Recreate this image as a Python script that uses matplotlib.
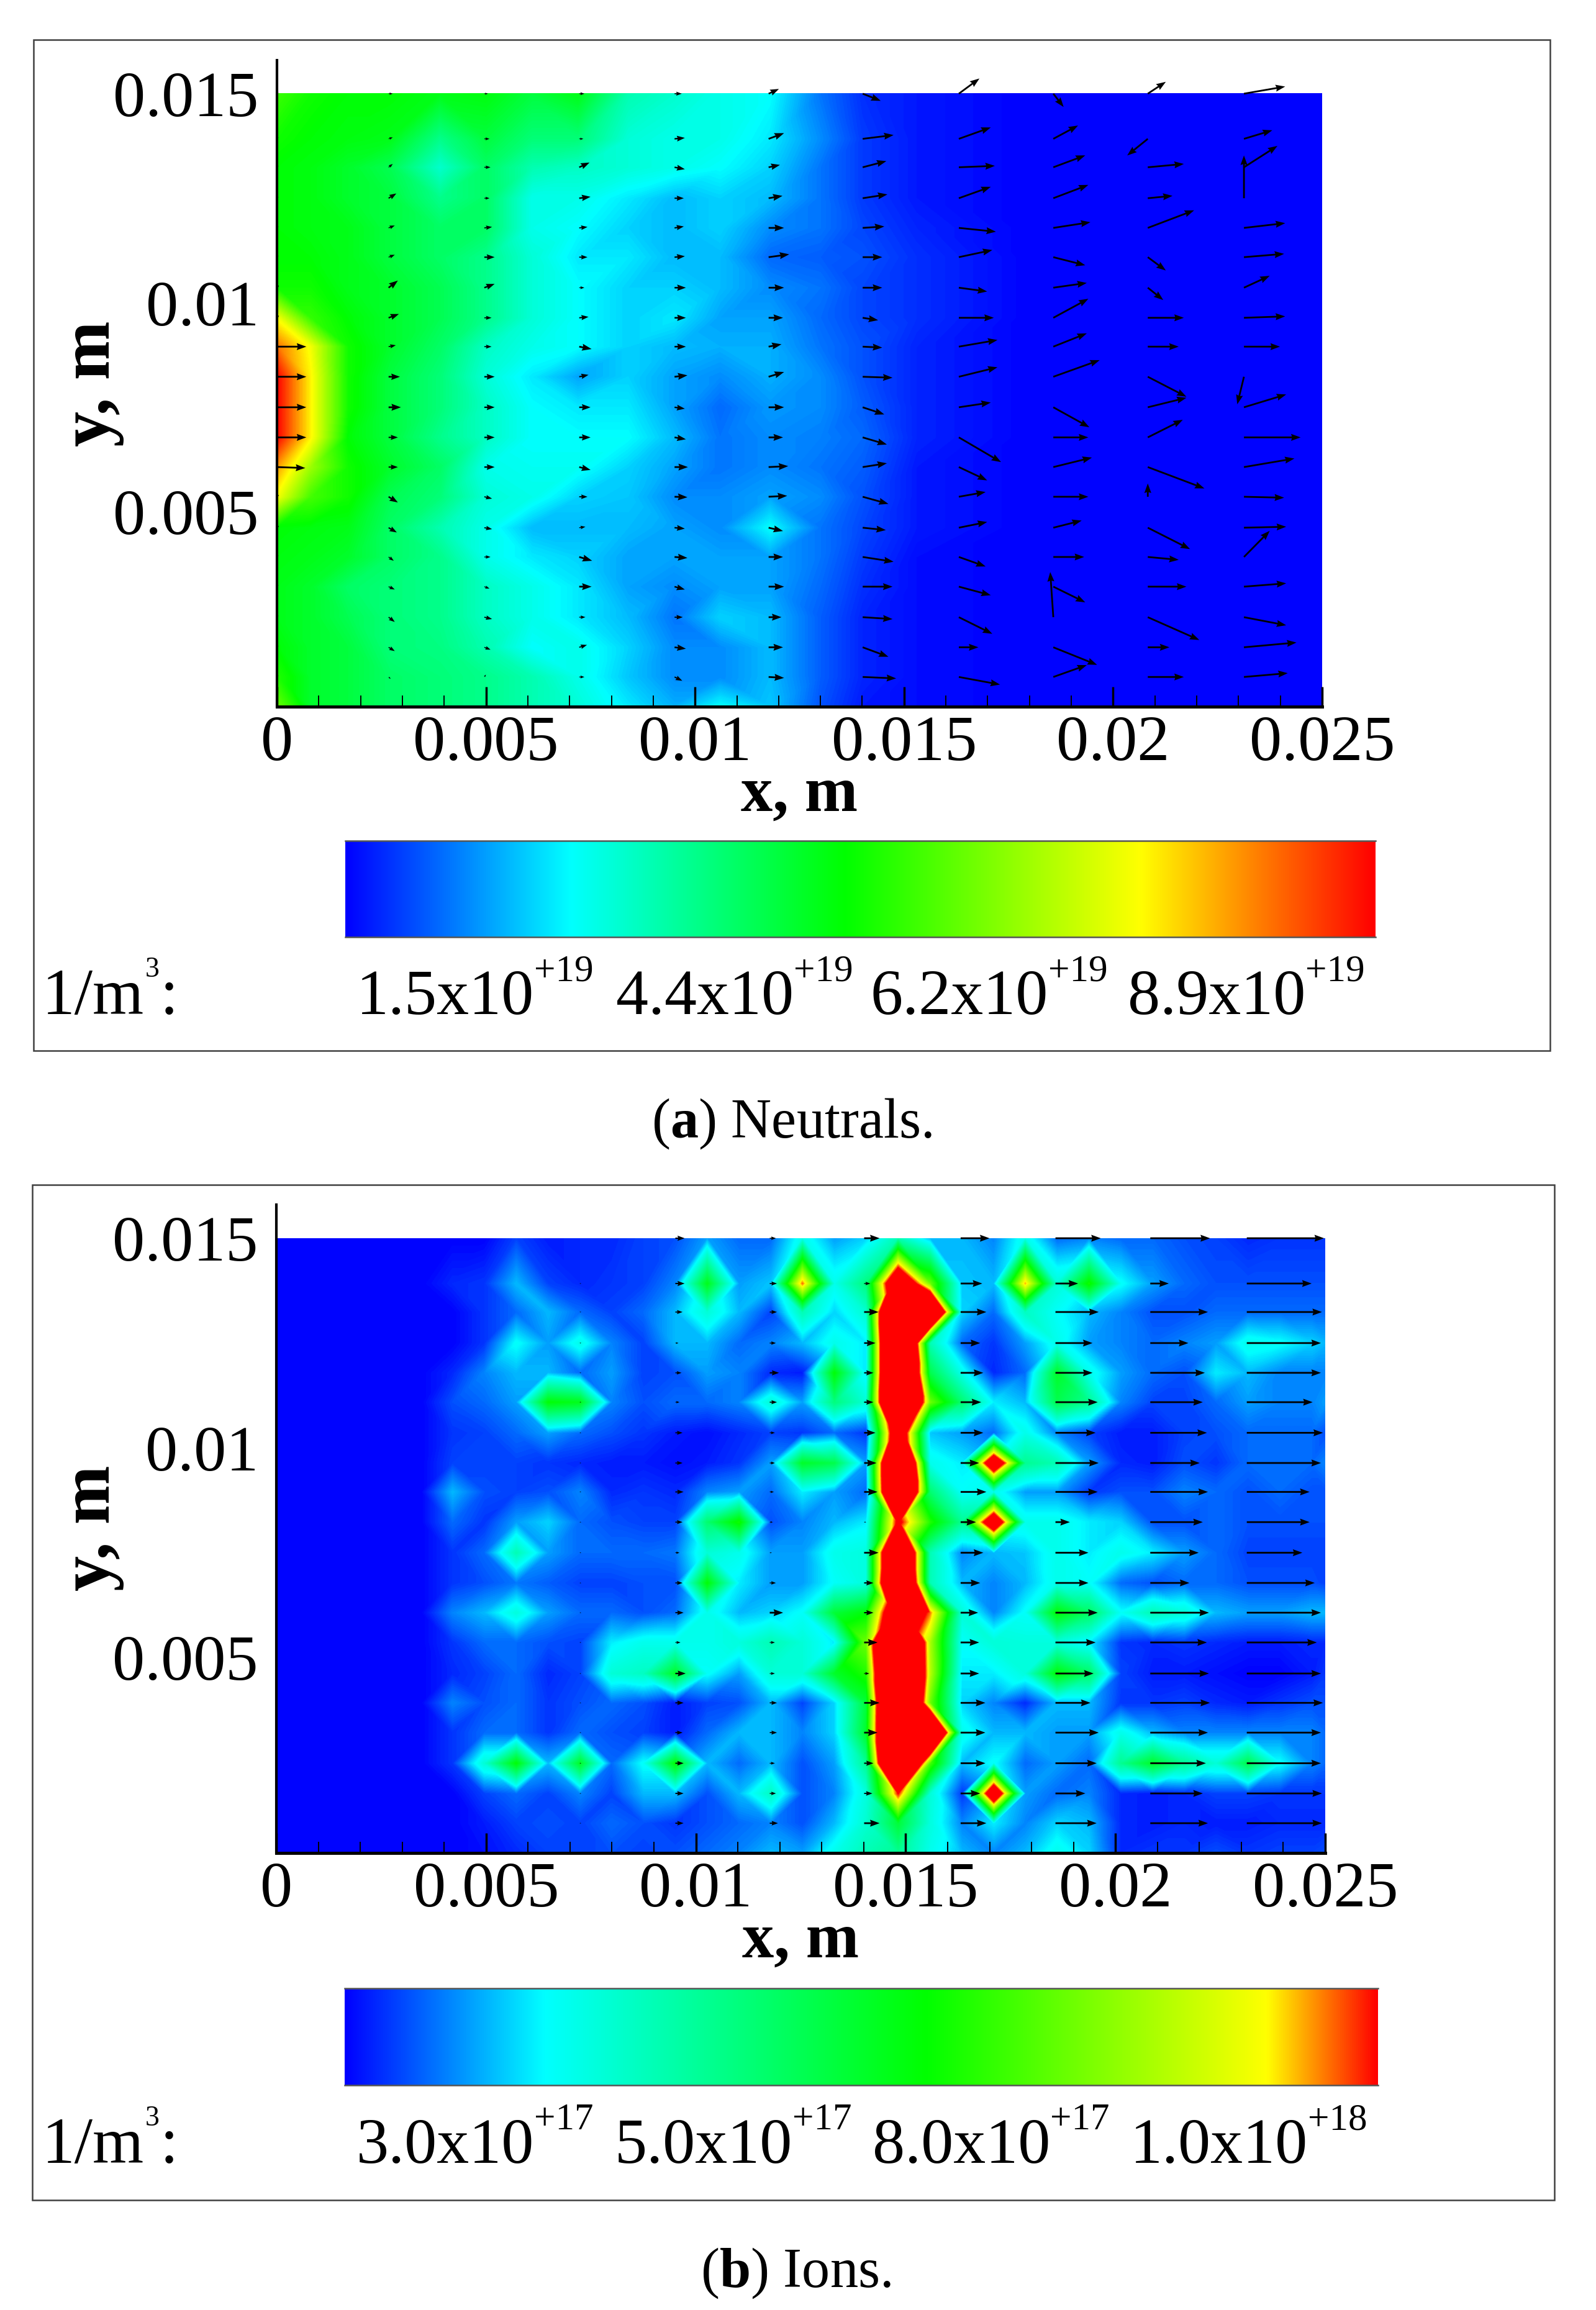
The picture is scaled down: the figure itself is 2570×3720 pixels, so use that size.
import numpy as np
import matplotlib
matplotlib.use('Agg')
import matplotlib.pyplot as plt
import matplotlib.tri as mtri
from matplotlib.colors import LinearSegmentedColormap
from matplotlib.patches import Rectangle
from matplotlib.ticker import MultipleLocator

plt.rcParams['font.family'] = ['Liberation Serif', 'DejaVu Serif']
plt.rcParams['mathtext.fontset'] = 'custom'
plt.rcParams['mathtext.rm'] = 'Liberation Serif'
plt.rcParams['mathtext.bf'] = 'Liberation Serif:bold'

W, H = 2570, 3720

# --- arrow grid (shared by both panels) ---
arrow_x = [0.0, 0.00267, 0.00496, 0.00723, 0.00951, 0.01176, 0.01401, 0.01631, 0.01857, 0.02083, 0.02313]
arrow_y = [0.015, 0.01392, 0.01324, 0.01250, 0.01179, 0.01109, 0.01036, 0.00964, 0.00895, 0.00823,
           0.00750, 0.00678, 0.00607, 0.00536, 0.00462, 0.00392, 0.00321, 0.00248, 0.00176, 0.00105]

# neutrals velocity, one list per column of arrows
neutral_u = [
    [3, 3, 3, 3, 3, 3, 4, 4, 57, 57, 57, 57, 55, 4, 4, 3, 3, 3, 3, 3],
    [8, 8, 8, 15, 12, 12, 18, 20, 14, 22, 24, 18, 18, 18, 16, 10, 12, 12, 12, 4],
    [7, 10, 12, 10, 15, 20, 20, 14, 14, 20, 20, 20, 20, 15, 15, 12, 10, 15, 12, 3],
    [10, 8, 20, 22, 16, 16, 10, 18, 24, 18, 22, 22, 22, 16, 12, 25, 24, 12, 15, 10],
    [14, 20, 20, 18, 18, 20, 22, 22, 22, 25, 20, 22, 26, 25, 20, 25, 20, 16, 22, 15],
    [20, 30, 22, 27, 30, 40, 30, 28, 25, 30, 30, 28, 38, 36, 28, 28, 30, 25, 28, 30],
    [35, 60, 46, 48, 42, 38, 38, 30, 38, 58, 42, 47, 47, 50, 45, 60, 58, 58, 50, 65],
    [40, 62, 70, 62, 72, 65, 55, 68, 75, 75, 62, 82, 55, 52, 55, 52, 62, 65, 38, 80],
    [20, 48, 62, 68, 72, 62, 65, 68, 65, 90, 70, 68, 75, 68, 55, 60, 62, -6, 85, 65],
    [35, -40, 70, 48, 90, 35, 30, 70, 60, 75, 75, 68, 110, 0, 82, 60, 75, 100, 42, 70],
    [80, 55, 65, 0, 80, 78, 50, 80, 70, -13, 82, 110, 98, 78, 82, 50, 82, 82, 102, 85],
]
neutral_v = [
    [3, 3, 3, 3, 3, 3, 5, 5, 0, 0, 0, 0, -2, 4, 4, 3, 3, 3, 3, 3],
    [0, 3, 7, 10, 5, 5, 15, 8, 3, 0, 0, 0, 0, -12, -10, -8, -6, -10, -8, -4],
    [0, 0, 0, 0, 2, 0, 8, 0, 0, 0, 0, 0, 0, -4, -3, 0, -4, -4, -5, 5],
    [0, 0, 10, 3, 2, 0, 0, 2, -5, 4, 0, 0, -6, 0, 2, -8, 0, 0, 5, 0],
    [0, 2, -4, 0, 3, 2, 0, 0, 0, 3, -3, -4, 0, -1, -2, -2, -6, 0, -3, -8],
    [10, 12, 5, 5, 0, 6, 0, 0, 5, 10, 0, 0, 2, 2, -7, 0, 0, 0, 0, -2],
    [-15, 8, 13, 8, 3, 0, 0, -5, -2, -2, -15, -15, 8, -15, -5, -10, 0, -4, -20, -3],
    [32, 24, 3, 24, -8, 15, -8, 0, 14, 20, 10, -52, -28, 10, 12, -20, -18, -35, 0, -16],
    [-28, 28, 25, 28, 12, -17, 10, 40, 28, 35, -42, 0, 20, 0, 15, 0, -33, 95, -37, 25],
    [25, -35, 7, 5, 37, -28, -26, 0, 0, -42, 20, 37, -45, 28, -45, -6, 0, -48, 0, 0],
    [15, 18, 45, 90, 10, 7, 25, 3, 0, -58, 27, 0, 18, -2, 2, 55, 7, -17, 10, 8],
]

# ions velocity (all along +x)
ion_u = [
    [0] * 20,
    [0] * 20,
    [0] * 20,
    [0, 3, 3, 3, 3, 3, 3, 3, 3, 3, 3, 3, 3, 3, 3, 3, 3, 3, 3, 3],
    [18, 18, 14, 6, 12, 8, 14, 14, 16, 14, 8, 14, 16, 10, 20, 16, 14, 16, 16, 16],
    [12, 14, 14, 12, 18, 14, 10, 10, 8, 6, 4, 12, 26, 10, 10, 14, 14, 10, 12, 16],
    [30, 12, 28, 22, 18, 18, 22, 24, 26, 4, 28, 18, 18, 26, 10, 30, 26, 18, 16, 30],
    [56, 42, 50, 38, 44, 40, 44, 36, 50, 30, 44, 38, 34, 36, 36, 48, 48, 48, 38, 50],
    [88, 44, 84, 72, 72, 82, 78, 84, 82, 28, 64, 64, 82, 78, 74, 68, 84, 80, 58, 80],
    [116, 36, 112, 74, 106, 102, 110, 96, 112, 102, 94, 76, 114, 110, 114, 116, 112, 108, 102, 112],
    [150, 126, 146, 144, 144, 128, 148, 144, 122, 122, 108, 132, 144, 136, 144, 148, 144, 144, 146, 146],
]
ion_v = [[0] * 20 for _ in ion_u]

# rows of the density fields
field_y = arrow_y + [0.00034]

# --- neutrals density, percent of the colour bar ---
neutral_x = [0.0, 0.0008, 0.0017, 0.0027, 0.0039, 0.0050, 0.0061, 0.0072, 0.0084, 0.0095, 0.0106, 0.0118,
             0.0130, 0.0140, 0.0153, 0.0180, 0.025]
neutral_density = [
    [55, 50, 48, 48, 46, 47, 42, 46, 30, 27, 24, 22, 10, 4, 2, 0, 0],
    [50, 48, 47, 46, 34, 42, 36, 36, 26, 24, 24, 20, 12, 5, 2, 0, 0],
    [48, 47, 44, 40, 27, 38, 30, 28, 26, 24, 22, 18, 10, 5, 2, 0, 0],
    [48, 47, 44, 42, 34, 38, 24, 24, 20, 16, 18, 16, 10, 5, 2, 0, 0],
    [48, 47, 46, 42, 38, 38, 24, 22, 18, 16, 18, 12, 10, 6, 3, 0, 0],
    [48, 48, 46, 42, 38, 34, 26, 20, 20, 16, 16, 9, 8, 7, 4, 0, 0],
    [50, 50, 46, 44, 40, 34, 26, 22, 18, 18, 16, 12, 10, 6, 4, 0, 0],
    [76, 54, 48, 44, 40, 34, 26, 22, 18, 20, 14, 14, 9, 6, 4, 0, 0],
    [90, 76, 50, 44, 38, 28, 24, 22, 18, 16, 15, 15, 10, 7, 3, 0, 0],
    [100, 78, 50, 42, 36, 26, 20, 14, 18, 14, 12, 15, 12, 7, 3, 0, 0],
    [100, 78, 50, 42, 36, 28, 22, 20, 20, 14, 9, 13, 12, 8, 3, 0, 0],
    [100, 78, 48, 42, 34, 28, 22, 22, 22, 16, 10, 12, 11, 9, 3, 0, 0],
    [86, 66, 50, 44, 38, 24, 23, 23, 18, 14, 10, 12, 10, 8, 2, 0, 0],
    [76, 56, 50, 40, 36, 26, 24, 18, 17, 12, 12, 14, 12, 7, 2, 0, 0],
    [48, 47, 46, 38, 30, 24, 16, 16, 16, 14, 12, 22, 10, 6, 2, 0, 0],
    [47, 46, 44, 38, 34, 24, 20, 18, 14, 14, 14, 14, 10, 5, 1, 0, 0],
    [46, 44, 38, 36, 34, 28, 24, 20, 14, 12, 14, 14, 9, 4, 1, 0, 0],
    [46, 44, 40, 36, 34, 28, 24, 20, 16, 10, 18, 16, 8, 3, 1, 0, 0],
    [48, 44, 42, 36, 35, 30, 22, 24, 18, 12, 12, 16, 8, 3, 1, 0, 0],
    [52, 44, 42, 38, 36, 34, 30, 24, 17, 12, 12, 16, 8, 3, 1, 0, 0],
    [60, 44, 42, 38, 36, 34, 30, 26, 20, 15, 22, 17, 7, 2, 1, 0, 0],
]

# --- ions density, percent of the colour bar (above 100 stays red) ---
ion_x = [0.0, 0.00042, 0.00117, 0.00193, 0.00269, 0.00345, 0.00420, 0.00496, 0.00572, 0.00648, 0.00724, 0.00799,
         0.00875, 0.00951, 0.01027, 0.01103, 0.01179, 0.01254, 0.01330, 0.01406, 0.01482, 0.01558, 0.01634, 0.01710,
         0.01785, 0.01861, 0.01937, 0.02013, 0.02089, 0.02164, 0.02240, 0.02316, 0.02392, 0.02468, 0.025]
ion_left = [0, 0, 0, 0, 0, 0]
ion_density = [
    ion_left + [0, 0, 5, 2, 3, 3, 5, 6, 12, 8, 8, 22, 12, 16, 30, 14, 14, 10, 22, 8, 10, 8, 8, 6, 5, 3, 4, 4, 4],
    ion_left + [3, 4, 14, 5, 3, 4, 5, 10, 52, 12, 15, 95, 22, 38, 137, 70, 15, 14, 92, 25, 58, 20, 12, 8, 6, 6, 6, 6, 6],
    ion_left + [0, 4, 8, 14, 8, 5, 8, 14, 25, 14, 5, 30, 16, 26, 200, 170, 16, 8, 28, 20, 14, 10, 6, 6, 8, 8, 8, 8, 8],
    ion_left + [0, 4, 20, 12, 22, 10, 5, 14, 14, 8, 10, 14, 22, 18, 200, 30, 8, 4, 12, 22, 12, 10, 8, 10, 12, 22, 20, 16, 14],
    ion_left + [3, 10, 14, 14, 8, 12, 5, 6, 12, 10, 3, 2, 55, 18, 200, 45, 22, 3, 8, 50, 22, 12, 8, 6, 18, 14, 10, 10, 10],
    ion_left + [6, 8, 12, 55, 52, 10, 6, 8, 8, 10, 25, 12, 38, 25, 200, 70, 40, 18, 14, 45, 35, 10, 5, 5, 8, 12, 10, 10, 12],
    ion_left + [4, 5, 8, 12, 8, 6, 4, 2, 1, 3, 5, 4, 8, 4, 130, 15, 12, 8, 22, 10, 5, 2, 2, 5, 6, 8, 8, 8, 6],
    ion_left + [5, 5, 5, 4, 3, 2, 2, 1, 2, 4, 12, 50, 45, 12, 190, 22, 18, 130, 35, 30, 12, 3, 2, 6, 4, 8, 8, 8, 10],
    ion_left + [14, 6, 5, 6, 10, 3, 4, 3, 10, 12, 8, 18, 12, 8, 190, 40, 20, 22, 12, 12, 4, 6, 6, 10, 8, 6, 8, 6, 6],
    ion_left + [8, 4, 12, 16, 8, 6, 5, 5, 40, 58, 6, 10, 14, 18, 105, 60, 35, 130, 22, 22, 18, 16, 6, 6, 8, 6, 6, 6, 6],
    ion_left + [4, 8, 30, 12, 8, 8, 8, 9, 25, 22, 12, 12, 22, 24, 175, 30, 10, 14, 15, 22, 18, 22, 18, 12, 8, 5, 5, 5, 5],
    ion_left + [4, 6, 9, 7, 5, 5, 6, 6, 55, 18, 12, 12, 20, 24, 185, 30, 14, 10, 14, 22, 20, 8, 6, 8, 8, 6, 6, 6, 5],
    ion_left + [10, 14, 24, 12, 8, 8, 6, 8, 22, 14, 16, 20, 48, 55, 135, 95, 25, 10, 20, 55, 42, 20, 30, 25, 14, 12, 12, 14, 14],
    ion_left + [4, 8, 8, 6, 5, 18, 22, 22, 22, 24, 30, 25, 18, 70, 200, 78, 20, 25, 24, 24, 18, 4, 3, 4, 3, 2, 2, 3, 3],
    ion_left + [3, 5, 8, 3, 5, 25, 28, 50, 20, 12, 25, 25, 50, 60, 200, 80, 18, 18, 24, 55, 42, 5, 2, 2, 1, 0, 0, 2, 4],
    ion_left + [10, 6, 8, 4, 6, 8, 6, 2, 5, 6, 14, 5, 16, 48, 200, 70, 16, 10, 3, 14, 14, 4, 4, 5, 3, 2, 4, 6, 6],
    ion_left + [4, 8, 8, 4, 8, 6, 5, 2, 8, 14, 14, 10, 16, 50, 200, 180, 22, 14, 14, 12, 12, 22, 14, 10, 10, 10, 10, 10, 8],
    ion_left + [4, 25, 55, 14, 50, 8, 20, 55, 14, 8, 14, 6, 12, 35, 200, 65, 14, 20, 8, 12, 8, 35, 50, 35, 25, 45, 20, 10, 8],
    ion_left + [0, 5, 8, 5, 10, 5, 14, 14, 6, 14, 28, 6, 10, 24, 100, 25, 4, 130, 12, 8, 10, 3, 2, 3, 5, 5, 4, 4, 4],
    ion_left + [0, 2, 5, 6, 5, 8, 6, 4, 6, 8, 10, 6, 14, 26, 48, 24, 10, 18, 10, 16, 14, 3, 2, 3, 2, 2, 3, 3, 3],
    ion_left + [0, 1, 3, 5, 5, 6, 5, 6, 8, 10, 14, 12, 22, 30, 35, 22, 14, 10, 14, 22, 16, 3, 4, 4, 6, 4, 5, 5, 6],
]

# --- colour bars and labels ---
neutral_stops = [(0.0, '#0000ff'), (0.218, '#00ffff'), (0.485, '#00ff00'), (0.772, '#ffff00'), (1.0, '#ff0000')]
ion_stops = [(0.0, '#0000ff'), (0.193, '#00ffff'), (0.5625, '#00ff00'), (0.893, '#ffff00'), (1.0, '#ff0000')]
neutral_bar_labels = ['1.5x10', '4.4x10', '6.2x10', '8.9x10']
neutral_bar_exps = ['+19', '+19', '+19', '+19']
ion_bar_labels = ['3.0x10', '5.0x10', '8.0x10', '1.0x10']
ion_bar_exps = ['+17', '+17', '+17', '+18']

x_ticks = [0, 0.005, 0.01, 0.015, 0.02, 0.025]
x_tick_labels = ['0', '0.005', '0.01', '0.015', '0.02', '0.025']
y_ticks = [0.005, 0.01, 0.015]
y_tick_labels = ['0.005', '0.01', '0.015']

fig = plt.figure(figsize=(W / 100, H / 100), dpi=100, facecolor='white')


def px_axes(x0, y0, x1, y1):
    return fig.add_axes([x0 / W, 1 - y1 / H, (x1 - x0) / W, (y1 - y0) / H])


def px_text(x, y, s, size, **kw):
    return fig.text(x / W, 1 - y / H, s, fontsize=size, va='baseline', **kw)


def mesh(density_x, density_y, density):
    # split each cell along the diagonal whose corners agree best, peaks become diamonds
    nx, ny = len(density_x), len(density_y)
    z = np.array(density, dtype=float)
    gx, gy = np.meshgrid(density_x, density_y)
    tris = []
    for j in range(ny - 1):
        for i in range(nx - 1):
            a, b, c, d = j * nx + i, j * nx + i + 1, (j + 1) * nx + i, (j + 1) * nx + i + 1
            if abs(z[j, i] - z[j + 1, i + 1]) < abs(z[j, i + 1] - z[j + 1, i]):
                tris += [[a, b, d], [a, d, c]]
            else:
                tris += [[a, b, c], [b, d, c]]
    return mtri.Triangulation(gx.ravel(), gy.ravel(), tris), z.ravel()


def draw_panel(box, density_x, density_y, density, stops, u, v, bar_box, bar_labels, bar_exps,
               label_starts, text_base, frame, caption, caption_x, caption_base):
    x0, y0, x1, y1 = box
    top = y0 - 54
    ax = px_axes(x0, top, x1, y1)
    ax.set_xlim(0, 0.025)
    ax.set_ylim(0.00034, 0.0158)
    cmap = LinearSegmentedColormap.from_list('tec', stops, N=512)
    cmap.set_over('#ff0000')
    cmap.set_under('#0000ff')

    # field, linear inside each triangle like the original mesh
    tri, z = mesh(density_x, density_y, density)
    ax.tricontourf(tri, z, levels=np.linspace(0, 100, 201), cmap=cmap, extend='both')

    ax_x, ax_y = np.meshgrid(arrow_x, arrow_y, indexing='ij')
    ax.quiver(ax_x, ax_y, np.array(u) / 1.206, np.array(v) / 1.307, angles='uv', scale_units='dots', scale=1,
              units='dots', width=2.8, headwidth=4, headlength=5.5, headaxislength=5,
              minshaft=1.3, minlength=0, color='black', pivot='tail', clip_on=False, zorder=3)

    for side in ('top', 'right'):
        ax.spines[side].set_visible(False)
    ax.spines['left'].set_linewidth(3)
    ax.spines['bottom'].set_linewidth(3.6)
    ax.set_xticks(x_ticks, x_tick_labels)
    ax.set_yticks(y_ticks, y_tick_labels)
    ax.xaxis.set_minor_locator(MultipleLocator(0.001))
    ax.tick_params(axis='x', which='major', direction='in', length=23, width=2.5, labelsize=75, pad=10)
    ax.tick_params(axis='x', which='minor', direction='in', length=13, width=1.4)
    ax.tick_params(axis='y', which='major', length=0, labelsize=75, pad=21)
    ax.set_xlabel('x, m', fontsize=74, fontweight='bold', va='baseline')
    ax.xaxis.set_label_coords(0.5, -168 / (y1 - top))
    ax.set_ylabel('y, m', fontsize=82, fontweight='bold', va='baseline')
    ax.yaxis.set_label_coords((176 - x0) / (x1 - x0), 1 - (y0 + 467 - top) / (y1 - top))

    # colour bar
    bx0, by0, bx1, by1 = bar_box
    cax = px_axes(bx0, by0, bx1, by1)
    cax.imshow(np.linspace(0, 1, 1024)[None, :], aspect='auto', cmap=cmap, vmin=0, vmax=1)
    cax.set_xticks([])
    cax.set_yticks([])
    for side in ('left', 'right'):
        cax.spines[side].set_visible(False)
    for side in ('top', 'bottom'):
        cax.spines[side].set_color('#555555')
        cax.spines[side].set_linewidth(1.8)

    # unit label: the exponent sits between the unit and the colon
    px_text(68, text_base, '1/m', 76)
    px_text(234, text_base - 60, '3', 33)
    px_text(258, text_base, ':', 76)
    for lab, exp, start in zip(bar_labels, bar_exps, label_starts):
        px_text(start, text_base, lab, 75)
        px_text(start + 286, text_base - 54, exp, 44)

    fx0, fy0, fx1, fy1 = frame
    fig.add_artist(Rectangle((fx0 / W, 1 - fy1 / H), (fx1 - fx0) / W, (fy1 - fy0) / H, fill=False,
                             edgecolor='#404040', linewidth=1.8, transform=fig.transFigure))
    px_text(caption_x, caption_base, caption, 65)


draw_panel((446, 151, 2129, 1138), neutral_x, field_y, neutral_density, neutral_stops,
           neutral_u, neutral_v, (556, 1354, 2215, 1509), neutral_bar_labels, neutral_bar_exps,
           [574, 992, 1402, 1816], 1633, (54, 64, 2496, 1692), r'($\mathbf{a}$) Neutrals.', 1049, 1832)
draw_panel((445, 1994, 2134, 2984), ion_x, field_y, ion_density, ion_stops,
           ion_u, ion_v, (555, 3202, 2219, 3358), ion_bar_labels, ion_bar_exps,
           [574, 990, 1405, 1820], 3483, (52, 1908, 2503, 3543), r'($\mathbf{b}$) Ions.', 1128, 3683)

plt.savefig('out.png', dpi=100, facecolor='white')
